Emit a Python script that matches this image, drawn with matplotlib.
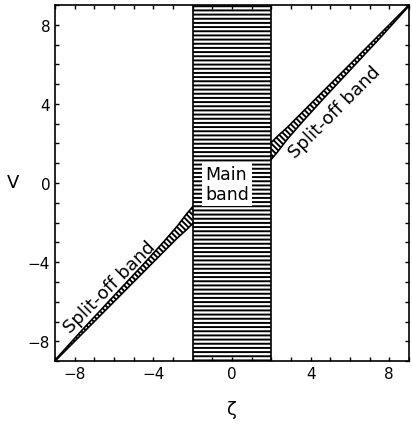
import numpy as np
import matplotlib
matplotlib.use("Agg")
import matplotlib.pyplot as plt
from matplotlib.ticker import MultipleLocator

# ---- data ----
main_band = [-2.0, 2.0]                     # zeta extent of main band
zeta_r = [2.0, 2.3, 2.8, 3.5, 4.5, 6.0, 7.5, 9.0]   # right split-off branch
v_upper_r = [2.05, 2.35, 2.8, 3.5, 4.5, 6.0, 7.5, 9.0]
v_lower_r = [1.2, 1.55, 2.2, 3.0, 4.1, 5.7, 7.3, 8.95]
zeta_l = [-z for z in zeta_r]                       # left branch (antisymmetric)
v_upper_l = [-v for v in v_lower_r]
v_lower_l = [-v for v in v_upper_r]
xticks = [-8, -4, 0, 4, 8]
yticks = [-8, -4, 0, 4, 8]

plt.rcParams['font.family'] = ['DejaVu Sans']
plt.rcParams['hatch.linewidth'] = 1.4

fig = plt.figure(figsize=(4.12, 4.27), dpi=100)
ax = fig.add_axes([0.1335, 0.152, 0.859, 0.834])
ax.set_xlim(-9, 9)
ax.set_ylim(-9, 9)

# main band (horizontal hatching)
ax.fill_between(main_band, -9, 9, facecolor='white', edgecolor='black',
                hatch='----', linewidth=0)
for z in main_band:
    ax.plot([z, z], [-9, 9], color='black', lw=1.2)

# split-off bands
for zz, lo, up in [(zeta_r, v_lower_r, v_upper_r), (zeta_l, v_lower_l, v_upper_l)]:
    ax.fill_between(zz, lo, up, facecolor='white', edgecolor='black',
                    hatch='\\\\\\\\\\\\', linewidth=0)
    ax.plot(zz, lo, color='black', lw=1.2)
    ax.plot(zz, up, color='black', lw=1.2)

ax.text(5.2, 3.63, 'Split-off band', rotation=45, rotation_mode='anchor',
        ha='center', va='center', fontsize=13)
ax.text(-6.23, -5.26, 'Split-off band', rotation=45, rotation_mode='anchor',
        ha='center', va='center', fontsize=13)
ax.text(-0.25, -0.05, 'Main\nband', ha='center', va='center', fontsize=12.5,
        multialignment='left', linespacing=1.1,
        bbox=dict(facecolor='white', edgecolor='none', pad=2))

ax.set_xticks(xticks)
ax.set_yticks(yticks)
ax.xaxis.set_minor_locator(MultipleLocator(1))
ax.yaxis.set_minor_locator(MultipleLocator(1))
ax.tick_params(which='both', direction='in', top=True, right=True,
               length=3, width=1, labelsize=11)
for s in ax.spines.values():
    s.set_linewidth(1.2)

ax.set_xlabel('ζ', fontsize=13, labelpad=14)
fig.text(13 / 412, 1 - 183 / 427, 'V', fontsize=13, ha='center', va='center')

fig.savefig('out.png', dpi=100)
